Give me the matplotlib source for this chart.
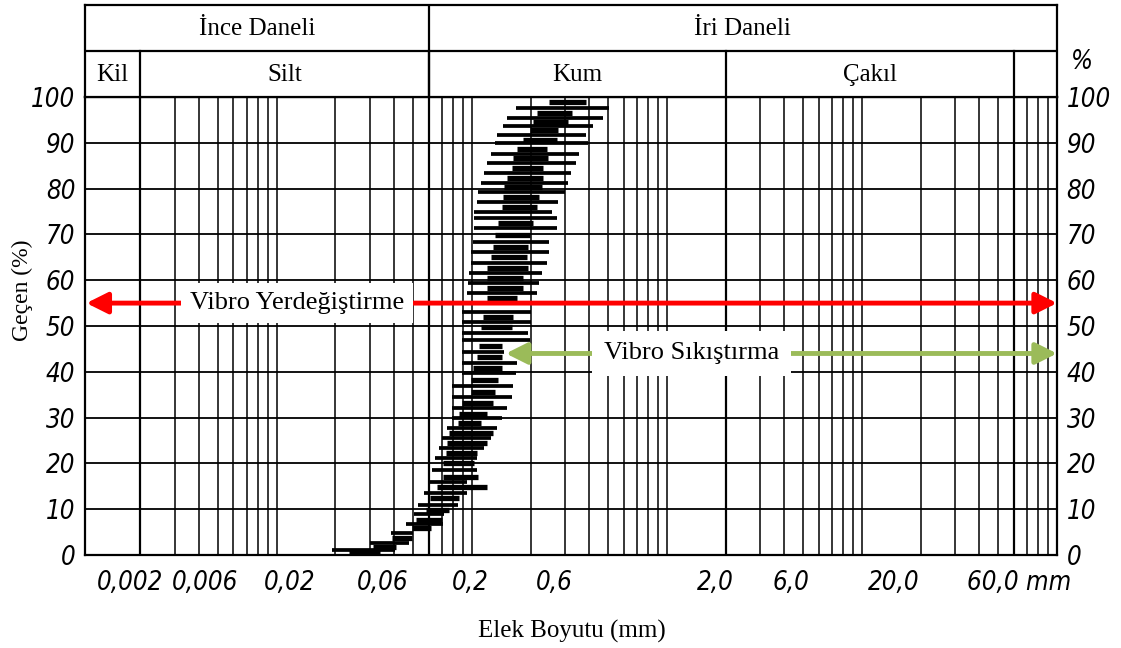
import matplotlib.pyplot as plt
from matplotlib import font_manager
from matplotlib.transforms import ScaledTranslation

# grain size band: percent passing, min / max sieve size (mm)
wide_pct = [97.5, 95.4, 93.7, 91.7, 90.0, 87.6, 85.6, 83.4, 81.2, 79.3, 77.0, 75.0, 73.6,
            71.4, 68.3, 66.2, 63.8, 61.6, 59.4, 57.2, 55.0, 53.0, 50.9, 48.5, 47.0, 44.3,
            42.0, 39.7, 36.9, 34.5, 32.1, 29.9, 27.7, 25.5, 23.4, 21.2, 18.6, 15.9, 13.5,
            10.9, 9.0, 6.8, 4.8, 2.6, 1.1]
wide_lo = [0.169, 0.151, 0.144, 0.134, 0.131, 0.126, 0.120, 0.116, 0.112, 0.107, 0.106, 0.103, 0.103,
           0.103, 0.101, 0.0995, 0.0995, 0.0973, 0.0951, 0.094, 0.094, 0.0895, 0.0895, 0.0895, 0.0895, 0.0895,
           0.0895, 0.0895, 0.0796, 0.0796, 0.0787, 0.0796, 0.075, 0.070, 0.0682, 0.0644, 0.0628, 0.0607, 0.0571,
           0.0527, 0.0508, 0.0462, 0.0387, 0.0299, 0.0193]
wide_hi = [0.508, 0.468, 0.416, 0.387, 0.392, 0.356, 0.344, 0.324, 0.310, 0.299, 0.275, 0.259, 0.272,
           0.272, 0.250, 0.250, 0.242, 0.228, 0.222, 0.215, 0.217, 0.202, 0.202, 0.193, 0.198, 0.147,
           0.171, 0.169, 0.162, 0.160, 0.151, 0.142, 0.134, 0.126, 0.116, 0.106, 0.106, 0.094, 0.094,
           0.0845, 0.0724, 0.0708, 0.0497, 0.0479, 0.0402]

core_pct = [99.0, 96.5, 94.5, 92.8, 90.6, 88.6, 86.7, 84.5, 82.3, 80.3, 78.2, 76.0, 72.5,
            69.9, 67.2, 65.0, 62.7, 60.5, 58.3, 56.1, 52.0, 49.8, 45.6, 43.2, 40.8, 38.2,
            35.6, 33.2, 30.8, 28.8, 26.6, 24.5, 22.3, 20.1, 17.0, 14.8, 12.4, 9.8, 7.6,
            5.9, 3.7, 1.8, 0.4]
core_lo = [0.250, 0.217, 0.205, 0.198, 0.182, 0.171, 0.162, 0.160, 0.152, 0.147, 0.144, 0.142, 0.136,
           0.131, 0.128, 0.126, 0.120, 0.120, 0.120, 0.119, 0.114, 0.112, 0.109, 0.106, 0.101, 0.0995,
           0.0995, 0.0895, 0.0863, 0.0845, 0.0768, 0.075, 0.074, 0.0708, 0.0708, 0.0667, 0.0607, 0.0585, 0.052,
           0.0491, 0.0392, 0.031, 0.0236]
core_hi = [0.387, 0.328, 0.310, 0.275, 0.272, 0.242, 0.245, 0.231, 0.231, 0.228, 0.222, 0.217, 0.205,
           0.198, 0.193, 0.191, 0.193, 0.182, 0.182, 0.171, 0.162, 0.160, 0.142, 0.142, 0.142, 0.136,
           0.131, 0.128, 0.119, 0.112, 0.128, 0.120, 0.106, 0.103, 0.107, 0.119, 0.0863, 0.0768, 0.070,
           0.0621, 0.0491, 0.0411, 0.0337]

size_ticks = [0.002, 0.006, 0.02, 0.06, 0.2, 0.6, 2.0, 6.0, 20.0, 60.0]
size_labels = ['0,002', '0,006', '0,02', '0,06', '0,2', '0,6', '2,0', '6,0', '20,0', '60,0 mm']
pct_ticks = list(range(0, 101, 10))

groups = ['İnce Daneli', 'İri Daneli']
classes = ['Kil', 'Silt', 'Kum', 'Çakıl']
class_bounds = [0.002, 0.06, 2.0, 60.0]

xmin, xmax = 0.00104, 100

# fonts
names = {f.name for f in font_manager.fontManager.ttflist}
if 'Liberation Sans Narrow' in names:
    tick_fp = font_manager.FontProperties(family='Liberation Sans Narrow', style='italic', size=20)
else:
    tick_fp = font_manager.FontProperties(family='DejaVu Sans', style='oblique', stretch='condensed', size=18.5)
serif = 'Liberation Serif'

fig = plt.figure(figsize=(11.21, 6.48), dpi=100)
ax = fig.add_axes([85 / 1121, 93 / 648, 972 / 1121, 458 / 648])
hax = fig.add_axes([85 / 1121, 551 / 648, 972 / 1121, 92 / 648])

ax.set_xscale('log')
ax.set_xlim(xmin, xmax)
ax.set_ylim(0, 100)

# log grid
for e in range(-3, 2):
    for k in range(1, 10):
        v = k * 10.0 ** e
        if xmin < v < xmax:
            ax.axvline(v, color='black', lw=1.1, zorder=1)
for v in class_bounds:
    ax.axvline(v, color='black', lw=1.6, zorder=1)
for p in pct_ticks:
    ax.axhline(p, color='black', lw=1.3, zorder=1)

# band of grain size curves
ax.hlines(wide_pct, wide_lo, wide_hi, color='black', lw=2.7, zorder=3)
ax.hlines(core_pct, core_lo, core_hi, color='black', lw=3.8, zorder=3)

# ranges of the two methods
ax.annotate('', xy=(xmin, 55), xytext=(xmax, 55),
            arrowprops=dict(arrowstyle='<|-|>', color='red', lw=3.5, mutation_scale=32,
                            shrinkA=0, shrinkB=1), zorder=5)
ax.text(0.218, 55, 'Vibro Yerdeğiştirme', transform=ax.get_yaxis_transform(),
        ha='center', va='center', fontsize=19, family=serif, zorder=6,
        bbox=dict(boxstyle='square,pad=0.35', fc='white', ec='none'))
ax.annotate('', xy=(0.147, 44), xytext=(xmax, 44),
            arrowprops=dict(arrowstyle='<|-|>', color='#9bbb59', lw=3.5, mutation_scale=32,
                            shrinkA=0, shrinkB=1), zorder=5)
ax.text(0.624, 44, 'Vibro Sıkıştırma', transform=ax.get_yaxis_transform(),
        ha='center', va='center', fontsize=19, family=serif, zorder=6,
        bbox=dict(boxstyle='square,pad=0.45', fc='white', ec='none'))

# ticks
ax.xaxis.set_minor_locator(plt.NullLocator())
ax.xaxis.set_minor_formatter(plt.NullFormatter())
ax.set_xticks(size_ticks, size_labels)
ax.set_yticks(pct_ticks, [str(p) for p in pct_ticks])
ax.tick_params(axis='x', length=0, pad=11)
ax.tick_params(axis='y', length=0, pad=7, labelleft=True, labelright=True)
label_shift = [-10, -28, -46, -46, -60, -69, -10, -28, -27, 5]
for t, dx in zip(ax.xaxis.get_major_ticks(), label_shift):
    t.label1.set_fontproperties(tick_fp)
    t.label1.set_transform(t.label1.get_transform() + ScaledTranslation(dx / 100, 0, fig.dpi_scale_trans))
for t in ax.yaxis.get_major_ticks():
    t.label1.set_fontproperties(tick_fp)
    t.label2.set_fontproperties(tick_fp)
for s in ax.spines.values():
    s.set_linewidth(1.6)

# header table
hax.set_xscale('log')
hax.set_xlim(xmin, xmax)
hax.set_ylim(0, 1)
hax.set_xticks([])
hax.set_yticks([])
hax.xaxis.set_minor_locator(plt.NullLocator())
for s in hax.spines.values():
    s.set_linewidth(1.6)
hax.axhline(0.5, color='black', lw=1.6)
hax.axvline(0.06, color='black', lw=1.6)
for v in class_bounds:
    hax.axvline(v, ymax=0.5, color='black', lw=1.6)
hax.text((xmin * 0.06) ** 0.5, 0.74, groups[0], ha='center', va='center', fontsize=18, family=serif)
hax.text((0.06 * xmax) ** 0.5, 0.74, groups[1], ha='center', va='center', fontsize=18, family=serif)
edges = [xmin] + class_bounds
for name, a, b in zip(classes, edges[:-1], edges[1:]):
    hax.text((a * b) ** 0.5, 0.24, name, ha='center', va='center', fontsize=18, family=serif)

fig.text(1082 / 1121, 1 - 62 / 648, '%', ha='center', va='center', fontproperties=tick_fp)
fig.text(22 / 1121, 1 - 290 / 648, 'Geçen (%)', rotation=90, ha='center', va='center',
         fontsize=17, family=serif)
fig.text(572 / 1121, 1 - 631 / 648, 'Elek Boyutu (mm)', ha='center', va='center',
         fontsize=18, family=serif)

fig.savefig('out.png', dpi=100)
